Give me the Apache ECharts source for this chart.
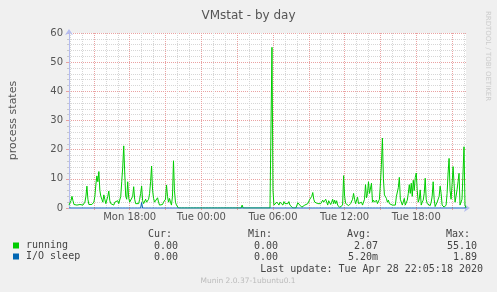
<!DOCTYPE html>
<html>
<head>
<meta charset="utf-8">
<script src="https://cdn.jsdelivr.net/npm/echarts@6/dist/echarts.min.js"></script>
<style>
html,body{margin:0;padding:0;background:#f0f0f0;}
#chart{width:497px;height:292px;}
</style>
</head>
<body>
<div id="chart"></div>
<script>
// ---- data (one value per 5-minute slot, starting Mon 12:55) ----
const running = [
  1, 1.5, 2.5, 4, 2.5, 1.2, 1, 1.3, 1, 1,
  0.8, 1.2, 1, 0.8, 1, 1.2, 2, 4, 7.5, 3,
  1.2, 1, 1.5, 1.2, 1.5, 2, 4, 8, 11, 9,
  12.5, 6, 4, 3, 2, 4.5, 3, 1.5, 2, 4,
  5.8, 2.5, 1.5, 1, 1.5, 1, 2, 1.5, 1.8, 2.5,
  1.5, 2, 4, 9, 14, 21.3, 12, 4, 3, 9,
  3.5, 2, 1.5, 2.5, 4, 7.3, 3, 1.5, 1.2, 2,
  1.5, 3, 5, 7.5, 2.5, 1.5, 2, 3, 2, 2.5,
  3, 5, 9, 14.4, 6, 3.3, 2, 1.5, 2, 3.5,
  2, 1, 1.5, 0.8, 1.2, 2, 1.5, 3, 7.9, 4,
  2, 3.3, 2, 1, 4, 16.2, 6, 2, 1, 1.5,
  0, 0, 0, 0, 0, 0, 0, 0, 0, 0,
  0, 0, 0, 0, 0, 0, 0, 0, 0, 0,
  0, 0, 0, 0, 0, 0, 0, 0, 0, 0,
  0, 0, 0, 0, 0, 0, 0, 0, 0, 0,
  0, 0, 0, 0, 0, 0, 0, 0, 0, 0,
  0, 0, 0, 0, 0, 0, 0, 0, 0, 0,
  0, 0, 0, 0, 1, 0, 0, 0, 0, 0,
  0, 0, 0, 0, 0, 0, 0, 0, 0, 0,
  0, 0, 0, 0, 0, 0, 0, 0, 0, 0,
  0, 0, 0, 0, 55.1, 6, 1, 1.5, 1, 2,
  1.5, 1, 2, 1.5, 2, 1, 2.2, 1.5, 2, 1,
  1.5, 2.2, 1, 1.5, 1, 0, 0, 0.5, 0, 0.5,
  1.8, 1.5, 1, 0.5, 0.3, 0, 0.5, 1, 0.5, 0.8,
  1.5, 2, 3, 2.5, 4, 5.3, 3, 2, 1.5, 2.5,
  1.5, 2, 1.5, 1.5, 2, 2.7, 2, 1.5, 3, 2,
  1, 2.5, 2.8, 1.2, 2, 3, 1.5, 2.7, 1.5, 2.5,
  1, 0.5, 0.2, 0.5, 0.3, 1, 11.1, 4, 1.6, 1,
  1.2, 0.8, 1, 1.5, 2, 3, 5, 3, 1.5, 2,
  3.7, 1.5, 1, 1.2, 2, 1, 1.5, 3, 8, 3.5,
  5, 9, 5, 5.5, 8.5, 2, 2.7, 2, 2.5, 2.7,
  1.5, 1, 3, 8.5, 15, 24, 10, 4.5, 4, 3.3,
  2, 2.7, 1.5, 1, 1.2, 1, 1.6, 1, 1, 3.9,
  4, 7, 10.5, 3, 2.5, 1, 1.5, 3.3, 1, 1.5,
  2.7, 5, 8, 5, 8.5, 4, 9.5, 6, 10.5, 12,
  6, 2, 3, 6.2, 1, 2, 2.7, 5, 10.2, 3,
  1.5, 1, 1, 0.8, 2, 4, 9, 3, 0.5, 1,
  2, 1.5, 4, 7.5, 5, 1, 0.5, 0.3, 0.5, 1,
  5, 12, 17, 6, 3, 8, 14.2, 8.5, 2, 4,
  6.2, 9, 11.9, 1, 0.5, 3, 12, 21, 1, 0
];
const ioSleep = [
  0,0,0,0,0,0,0,0,0,0,0,0,0,0,0,0,0,0,0,0,
  0,0,0,0,0,0,0,0,0,0,0,0,0,0,0,0,0,0,0,0,
  0,0,0,0,0,0,0,0,0,0,0,0,0,0,0,0,0,0,0,0,
  0,0,0,0,0,0,0,0,0,0,0,0,0,1.89,0,0,0,0,0,0,
  0,0,0,0,0,0,0,0,0,0,0,0,0,0,0,0,0,0,0,0,
  0,0,0,0,0,0,0,0,0,0,0,0,0,0,0,0,0,0,0,0,
  0,0,0,0,0,0,0,0,0,0,0,0,0,0,0,0,0,0,0,0,
  0,0,0,0,0,0,0,0,0,0,0,0,0,0,0,0,0,0,0,0,
  0,0,0,0,0,0,0,0,0,0,0,0,0,0,0,0,0,0,0,0,
  0,0,0,0,0,0,0,0,0,0,0,0,0,0,0,0,0,0,0,0,
  0,0,0,0,0,0,0,0,0,0,0,0,0,0,0,0,0,0,0,0,
  0,0,0,0,0,0,0,0,0,0,0,0,0,0,0,0,0,0,0,0,
  0,0,0,0,0,0,0,0,0,0,0,0,0,0,0,0,0,0,0,0,
  0,0,0,0,0,0,0,0,0,0,0,0,0,0,0,0,0,0,0,0,
  0,0,0,0,0,0,0,0,0,0,0,0,0,0,0,0,0,0,0,0,
  0,0,0,0,0,0,0,0,0,0,0,0,0,0,0,0,0,0,0,0,
  0,0,0,0,0,0,0,0,0,0,0,0,0,0,0,0,0,0,0,0,
  0,0,0,0,0,0,0,0,0,0,0,0,0,0,0,0,0,0,0,0,
  0,0,0,0,0,0,0,0,0,0,0,0,0,0,0,0,0,0,0,0,
  0,0,0,0,0,0,0,0,0,0,0,0,0,0,0,0,0,0,0,0
];
const seriesNames = ['running', 'I/O sleep'];
const xTickLabels = ['Mon 18:00', 'Tue 00:00', 'Tue 06:00', 'Tue 12:00', 'Tue 18:00'];
const yTicks = [0, 10, 20, 30, 40, 50, 60];
const statHeaders = ['Cur:', 'Min:', 'Avg:', 'Max:'];
const runningStats = ['0.00', '0.00', '2.07', '55.10'];
const ioSleepStats = ['0.00', '0.00', '5.20m', '1.89'];
const lastUpdate = 'Last update: Tue Apr 28 22:05:18 2020';
const footer = 'Munin 2.0.37-1ubuntu0.1';
const watermark = 'RRDTOOL / TOBI OETIKER';

// time categories: 5-minute slots from Mon 12:55
const categories = [];
const startMin = 12 * 60 + 55;
for (let i = 0; i < running.length; i++) {
  const t = startMin + 5 * i;
  const day = t >= 1440 ? 'Tue' : 'Mon';
  const m = t % 1440;
  const hh = String(Math.floor(m / 60)).padStart(2, '0');
  const mm = String(m % 60).padStart(2, '0');
  categories.push(day + ' ' + hh + ':' + mm);
}
function hm(v) { const p = v.slice(4).split(':').map(Number); return {h: p[0], m: p[1]}; }
const isMajor = (i, v) => { const t = hm(v); return t.m === 0 && t.h % 3 === 0; };
const isMinor = (i, v) => hm(v).m === 0;
const isLabel = (i, v) => xTickLabels.indexOf(v) >= 0;

const mono = 'DejaVu Sans Mono';
const sans = 'DejaVu Sans';
const colors = ['#00cc00', '#0066b3'];
const axisColor = '#b4bcf0';

const colRight = [172, 272, 371, 470];
const valRight = [178, 278, 378, 477];
const graphics = [];
statHeaders.forEach((s, k) => graphics.push({type:'text', x: colRight[k], y: 234.5,
  style:{text:s, align:'right', verticalAlign:'middle', font:'10px "' + mono + '"', fill:'#444'}}));
runningStats.forEach((s, k) => graphics.push({type:'text', x: valRight[k], y: 246,
  style:{text:s, align:'right', verticalAlign:'middle', font:'10px "' + mono + '"', fill:'#444'}}));
ioSleepStats.forEach((s, k) => graphics.push({type:'text', x: valRight[k], y: 257,
  style:{text:s, align:'right', verticalAlign:'middle', font:'10px "' + mono + '"', fill:'#444'}}));
graphics.push({type:'text', x: 483, y: 269,
  style:{text:lastUpdate, align:'right', verticalAlign:'middle', font:'10px "' + mono + '"', fill:'#444'}});
graphics.push({type:'text', x: 248, y: 281.5,
  style:{text:footer, align:'center', verticalAlign:'middle', font:'7.5px "' + sans + '"', fill:'#bbbbbb'}});
graphics.push({type:'text', x: 488, y: 56, rotation: -Math.PI / 2,
  style:{text:watermark, align:'center', verticalAlign:'middle', font:'7px "' + sans + '"', fill:'#cccccc'}});

const chart = echarts.init(document.getElementById('chart'), null, {renderer: 'canvas'});
chart.setOption({
  animation: false,
  backgroundColor: '#f0f0f0',
  title: {
    text: 'VMstat - by day', left: 'center', top: 5,
    textStyle: {fontFamily: sans, fontSize: 12, fontWeight: 'normal', color: '#555'}
  },
  legend: {
    orient: 'vertical', left: 13, top: 240, itemGap: 0, itemWidth: 6, itemHeight: 6,
    icon: 'rect', padding: 0,
    data: seriesNames,
    textStyle: {fontFamily: mono, fontSize: 10, color: '#444', lineHeight: 11, padding: [0, 0, 0, 2]}
  },
  grid: {left: 67, top: 33, width: 399, height: 175, show: true, backgroundColor: '#ffffff', borderWidth: 0},
  xAxis: [{
    type: 'category', data: categories, boundaryGap: false, z: 2,
    axisLine: {show: true, lineStyle: {color: axisColor, width: 1}, symbol: ['none', 'arrow'], symbolSize: [6, 6], symbolOffset: [0, 4]},
    axisTick: {show: true, interval: isMajor, length: 2, lineStyle: {color: '#e8a0a0'}},
    axisLabel: {interval: isLabel, fontFamily: sans, fontSize: 10, color: '#555', margin: 4},
    splitLine: {show: true, interval: isMajor, lineStyle: {color: '#eaa2a2', width: 1, type: [1, 1]}}
  }, {
    type: 'category', data: categories, boundaryGap: false, z: 1, position: 'bottom',
    axisLine: {show: false}, axisTick: {show: false}, axisLabel: {show: false},
    splitLine: {show: true, interval: isMinor, lineStyle: {color: '#d6d6d6', width: 1, type: [1, 1]}}
  }],
  yAxis: {
    type: 'value', min: yTicks[0], max: yTicks[yTicks.length - 1], interval: 10,
    name: 'process states', nameLocation: 'middle', nameGap: 50,
    nameTextStyle: {fontFamily: sans, fontSize: 11, color: '#555'},
    axisLine: {show: true, lineStyle: {color: axisColor, width: 1}, symbol: ['none', 'arrow'], symbolSize: [6, 6], symbolOffset: [0, 4]},
    axisTick: {show: true, length: 3, lineStyle: {color: '#e8a0a0'}},
    minorTick: {show: true, splitNumber: 5, length: 2, lineStyle: {color: '#c8c8c8'}},
    axisLabel: {fontFamily: sans, fontSize: 10, color: '#555', margin: 6},
    splitLine: {show: true, lineStyle: {color: '#eaa2a2', width: 1, type: [1, 1]}},
    minorSplitLine: {show: true, lineStyle: {color: '#d6d6d6', width: 1, type: [1, 1]}}
  },
  series: [{
    name: seriesNames[0], type: 'line', data: running, xAxisIndex: 0,
    showSymbol: false, symbol: 'none', color: colors[0],
    lineStyle: {color: colors[0], width: 1}, z: 3
  }, {
    name: seriesNames[1], type: 'line', data: ioSleep, xAxisIndex: 0,
    showSymbol: false, symbol: 'none', color: colors[1],
    lineStyle: {color: colors[1], width: 1}, z: 4
  }],
  graphic: graphics
});
</script>
</body>
</html>
